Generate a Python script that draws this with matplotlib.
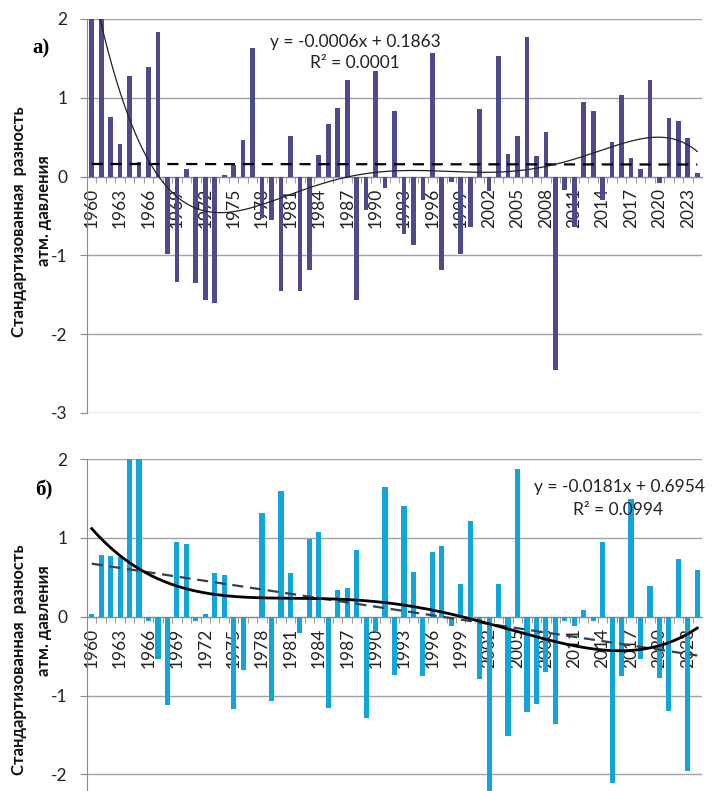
import numpy as np
import matplotlib
matplotlib.use("Agg")
import matplotlib.pyplot as plt
from matplotlib.ticker import FixedLocator, NullFormatter
from numpy.polynomial import Polynomial

plt.rcParams["font.family"] = ["Lato", "Open Sans", "DejaVu Sans"]

years = list(range(1960, 2025))

# panel a) standardized pressure difference
values_a = [
    2.5, 2.3, 0.76, 0.42, 1.28, 0.19, 1.39, 1.84, -0.98, -1.34,
    0.10, -1.35, -1.56, -1.61, 0.02, 0.15, 0.47, 1.63, -0.52, -0.55,
    -1.45, 0.52, -1.45, -1.19, 0.28, 0.67, 0.87, 1.23, -1.57, -0.43,
    1.34, -0.14, 0.83, -0.73, -0.87, -0.30, 1.57, -1.19, -0.07, -0.98,
    -0.64, 0.86, -0.18, 1.53, 0.29, 0.51, 1.77, 0.26, 0.57, -2.46,
    -0.17, -0.64, 0.95, 0.83, -0.30, 0.44, 1.04, 0.23, 0.10, 1.22,
    -0.08, 0.74, 0.70, 0.49, 0.05,
]

# panel б)
values_b = [
    0.04, 0.78, 0.77, 0.76, 2.9, 2.8, -0.06, -0.53, -1.12, 0.95,
    0.92, -0.06, 0.03, 0.56, 0.53, -1.17, -0.67, -0.02, 1.31, -1.07,
    1.59, 0.56, -0.21, 0.98, 1.07, -1.16, 0.34, 0.36, 0.85, -1.29,
    -0.18, 1.65, -0.74, 1.40, 0.57, -0.75, 0.82, 0.90, -0.12, 0.42,
    1.22, -0.79, -2.30, 0.41, -1.51, 1.87, -1.21, -1.11, -0.70, -1.36,
    -0.05, -0.12, 0.08, -0.06, 0.95, -2.11, -0.75, 1.49, -0.53, 0.39,
    -0.78, -1.20, 0.73, -1.96, 0.59,
]

eq_a = ["y = -0.0006x + 0.1863", "R² = 0.0001"]
eq_b = ["y = -0.0181x + 0.6954", "R² = 0.0994"]
ylabel_lines = ["Стандартизованная  разность", "атм. давления"]

GRID = "#a3a3a3"
AXIS = "#8a8a8a"

W, H = 712, 791
fig = plt.figure(figsize=(W / 100, H / 100), dpi=100)
ax1 = fig.add_axes([87 / W, 1 - 413 / H, 615 / W, 394 / H])
ax2 = fig.add_axes([87 / W, 0, 615 / W, (H - 459) / H])


def style_axis(ax, ylim, yticks):
    idx = np.arange(len(years))
    ax.set_xlim(-0.5, len(years) - 0.5)
    ax.set_ylim(*ylim)
    for s in ("top", "right"):
        ax.spines[s].set_visible(False)
    ax.spines["left"].set_color(AXIS)
    ax.spines["bottom"].set_color(AXIS)
    ax.spines["bottom"].set_position(("data", 0))
    ax.set_yticks(yticks)
    ax.set_yticklabels([str(t) for t in yticks])
    ax.tick_params(axis="y", length=5, color=AXIS, pad=9, labelsize=12.5,
                   labelcolor="#222222")
    ax.yaxis.grid(True, color=GRID, lw=1)
    ax.set_axisbelow(True)
    # year labels every 3 years, tick marks at category borders
    ax.set_xticks(idx[::3])
    ax.set_xticklabels([str(y) for y in years[::3]], rotation=90)
    ax.tick_params(axis="x", which="major", length=0, pad=8, labelsize=12.5,
                   labelcolor="#222222")
    ax.xaxis.set_minor_locator(FixedLocator(idx[:-1] + 0.5))
    ax.xaxis.set_minor_formatter(NullFormatter())
    ax.tick_params(axis="x", which="minor", length=4, color=AXIS)


def trends(ax, vals, deg, lin_style, poly_style):
    x = np.arange(1, len(vals) + 1)
    y = np.array(vals)
    k, b = np.polyfit(x, y, 1)
    ax.plot(x - 1, k * x + b, **lin_style, zorder=4)
    p = Polynomial.fit(x, y, deg)
    xs = np.linspace(1, len(vals), 400)
    ax.plot(xs - 1, p(xs), **poly_style, zorder=4)


# panel a
idx = np.arange(len(years))
ax1.bar(idx, values_a, width=0.5, color="#4f4a8e", zorder=3)
style_axis(ax1, (-3, 2), [2, 1, 0, -1, -2, -3])
trends(ax1, values_a, 6,
       dict(color="black", lw=1.6, linestyle=(0, (5, 3.5))),
       dict(color="#222222", lw=0.9))
ax1.text(0.436, 0.942, eq_a[0], transform=ax1.transAxes, ha="center",
         va="center", fontsize=12.5, color="#222222")
ax1.text(0.436, 0.888, eq_a[1], transform=ax1.transAxes, ha="center",
         va="center", fontsize=12.5, color="#222222")

# panel б
ax2.bar(idx, values_b, width=0.55, color="#12a5dc", zorder=3)
style_axis(ax2, (-2.21, 2), [2, 1, 0, -1, -2])
trends(ax2, values_b, 4,
       dict(color="#34404f", lw=1.6, linestyle=(0, (5, 3))),
       dict(color="black", lw=2.0))
ax2.text(0.866, 0.916, eq_b[0], transform=ax2.transAxes, ha="center",
         va="center", fontsize=12.5, color="#222222")
ax2.text(0.864, 0.846, eq_b[1], transform=ax2.transAxes, ha="center",
         va="center", fontsize=12.5, color="#222222")

# y labels (two lines each) and panel letters
for y1, y2 in ((222, 211), (660, 621)):
    fig.text(19 / W, 1 - y1 / H, ylabel_lines[0], rotation=90, ha="center",
             va="center", fontsize=12, fontweight="bold", color="#111111")
    fig.text(44 / W, 1 - y2 / H, ylabel_lines[1], rotation=90, ha="center",
             va="center", fontsize=12, fontweight="bold", color="#111111")

fig.text(41 / W, 1 - 48 / H, "а)", ha="center", va="center", fontsize=15,
         fontweight="bold", family=["Liberation Serif", "DejaVu Serif"])
fig.text(44 / W, 1 - 490 / H, "б)", ha="center", va="center", fontsize=15,
         fontweight="bold", family=["Liberation Serif", "DejaVu Serif"])

fig.savefig("out.png", dpi=100)
